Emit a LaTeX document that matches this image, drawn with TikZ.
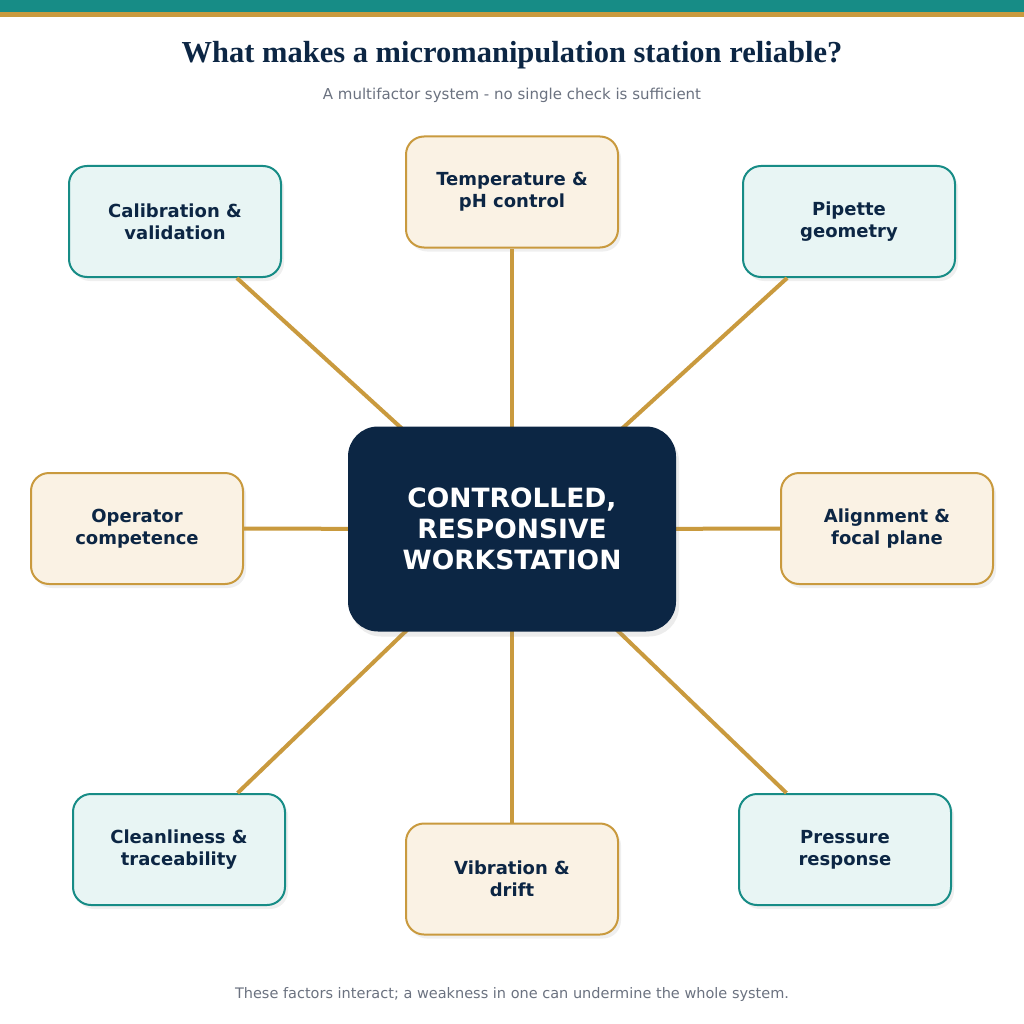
\documentclass[tikz,border=0pt]{standalone}
\usepackage{fontspec}
\setmainfont{DejaVu Sans}
\newfontfamily\titlefont{Liberation Serif}
\usetikzlibrary{positioning,shadows}
\definecolor{navy}{HTML}{0C2644}
\definecolor{teal}{HTML}{178C86}
\definecolor{gold}{HTML}{C99A3E}
\definecolor{tealfill}{HTML}{E8F5F4}
\definecolor{goldfill}{HTML}{FAF2E4}
\definecolor{note}{HTML}{6B7280}
\tikzset{
  factor/.style={draw, line width=2pt, rounded corners=18pt, minimum width=212pt,
    minimum height=111pt, align=center, text=navy, font=\bfseries\fontsize{18}{22}\selectfont,
    drop shadow={shadow xshift=3pt, shadow yshift=-4pt, opacity=0.12}},
  tealbox/.style={factor, draw=teal, fill=tealfill},
  goldbox/.style={factor, draw=gold, fill=goldfill},
  link/.style={draw=gold, line width=4pt}
}
\begin{document}
\begin{tikzpicture}[x=1pt,y=-1pt]
\useasboundingbox (0,0) rectangle (1024,1024);
\fill[white] (0,0) rectangle (1024,1024);
\fill[teal] (0,0) rectangle (1024,12);
\fill[gold] (0,12) rectangle (1024,17);

% ---------- Titles ----------
\node (title) at (512,55) {\titlefont\bfseries\fontsize{30.5}{34}\selectfont\color{navy}What makes a micromanipulation station reliable?};
\node (sub) at (512,95) {\fontsize{15}{18}\selectfont\color{note}A multifactor system - no single check is sufficient};

% ---------- Factors ----------
\node[tealbox] (calib) at (175,221.5) {Calibration \&\\validation};
\node[goldbox] (temp) at (512,192) {Temperature \&\\pH control};
\node[tealbox] (pipette) at (849,221.5) {Pipette\\geometry};
\node[goldbox] (operator) at (137,528.5) {Operator\\competence};
\node[goldbox] (align) at (887,528.5) {Alignment \&\\focal plane};
\node[tealbox] (clean) at (179,849.5) {Cleanliness \&\\traceability};
\node[goldbox] (vib) at (512,879) {Vibration \&\\drift};
\node[tealbox] (press) at (845,849.5) {Pressure\\response};

% ---------- Centre ----------
\coordinate (hub) at (512,529);
\foreach \f in {calib,temp,pipette,operator,align,clean,vib,press}
  \path[link] (hub) -- (\f);
\node[fill=navy, rounded corners=30pt, minimum width=328pt, minimum height=205pt,
  align=center, text=white, font=\bfseries\fontsize{26.5}{31}\selectfont,
  drop shadow={shadow xshift=3pt, shadow yshift=-5pt, opacity=0.15}] (core) at (hub)
  {CONTROLLED,\\RESPONSIVE\\WORKSTATION};

\node (foot) at (512,994) {\fontsize{14.5}{17}\selectfont\color{note}These factors interact; a weakness in one can undermine the whole system.};
\end{tikzpicture}
\end{document}
